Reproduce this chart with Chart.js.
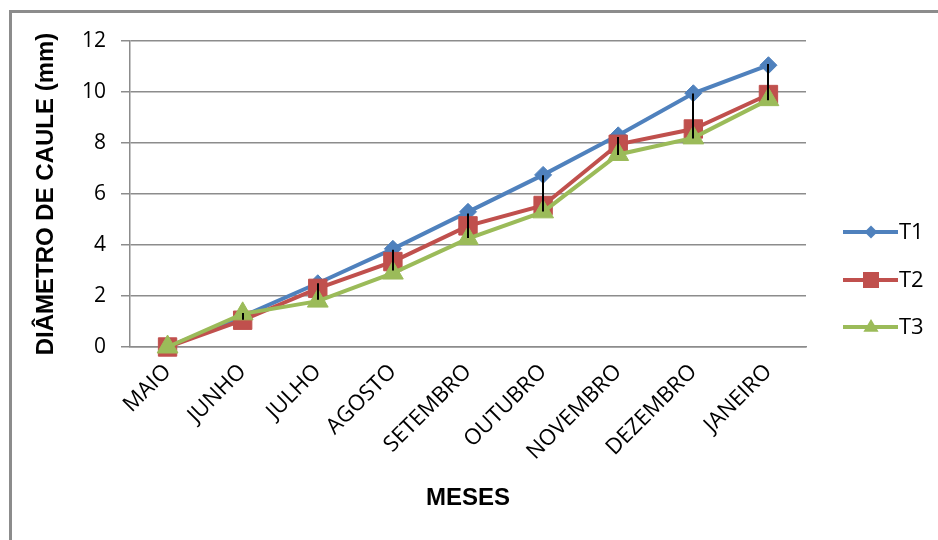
<!DOCTYPE html>
<html lang="pt">
<head>
<meta charset="utf-8">
<script src="https://cdn.jsdelivr.net/npm/chart.js@4/dist/chart.umd.min.js"></script>
<style>
  html, body { margin: 0; padding: 0; background: #fff; }
  #wrap { position: relative; width: 938px; height: 540px; }
</style>
</head>
<body>
<div id="wrap"><canvas id="grafico" width="938" height="540"></canvas></div>
<script>
// Meses de avaliação e diâmetro de caule (mm) por tratamento
const meses = ['MAIO', 'JUNHO', 'JULHO', 'AGOSTO', 'SETEMBRO', 'OUTUBRO', 'NOVEMBRO', 'DEZEMBRO', 'JANEIRO'];
const t1 = [0, 1.2, 2.5, 3.85, 5.3, 6.75, 8.3, 9.95, 11.05];
const t2 = [0, 1.05, 2.3, 3.35, 4.75, 5.55, 7.95, 8.55, 9.9];
const t3 = [0, 1.3, 1.8, 2.9, 4.25, 5.3, 7.55, 8.2, 9.7];
// Barras verticais (limite superior e inferior) em cada mês
const barraSup = [null, 1.33, 2.5, 3.81, 5.24, 6.74, 8.24, 9.94, 11.1];
const barraInf = [null, 1.07, 1.85, 3.0, 4.27, 5.31, 7.53, 8.18, 9.68];
const yMin = 0, yMax = 12, yPasso = 2;

const AZUL = '#4F81BD', VERMELHO = '#C0504D', VERDE = '#9BBB59';
const CINZA = '#8c8c8c';
const familiaTexto = '"Open Sans", "DejaVu Sans", sans-serif';
const fonteTickY = { family: familiaTexto, size: 21 };
const fonteTickX = { family: familiaTexto, size: 22 };
const fonteTitulo = { family: '"Liberation Sans", Arial, sans-serif', size: 24, weight: 'bold' };

// Moldura e fundo
const moldura = {
  id: 'moldura',
  beforeDraw(chart) {
    const ctx = chart.ctx;
    ctx.save();
    ctx.fillStyle = '#fff';
    ctx.fillRect(0, 0, chart.width, chart.height);
    ctx.strokeStyle = CINZA;
    ctx.lineWidth = 3;
    ctx.beginPath();
    ctx.moveTo(10.5, chart.height + 2);
    ctx.lineTo(10.5, 11.5);
    ctx.lineTo(chart.width + 2, 11.5);
    ctx.stroke();
    ctx.restore();
  }
};

// Barras verticais pretas
const barras = {
  id: 'barras',
  afterDatasetsDraw(chart) {
    const { ctx, scales: { x, y } } = chart;
    ctx.save();
    ctx.strokeStyle = '#000';
    ctx.lineWidth = 2;
    barraSup.forEach((sup, i) => {
      if (sup === null) return;
      const px = Math.round(x.getPixelForValue(i));
      ctx.beginPath();
      ctx.moveTo(px, y.getPixelForValue(sup));
      ctx.lineTo(px, y.getPixelForValue(barraInf[i]));
      ctx.stroke();
    });
    ctx.restore();
  }
};

// Legenda à direita
function marcador(ctx, estilo, cx, cy, r, cor) {
  ctx.fillStyle = cor;
  ctx.beginPath();
  if (estilo === 'rectRot') {
    ctx.moveTo(cx - r, cy); ctx.lineTo(cx, cy - r); ctx.lineTo(cx + r, cy); ctx.lineTo(cx, cy + r);
  } else if (estilo === 'rect') {
    ctx.rect(cx - r, cy - r, 2 * r, 2 * r);
  } else {
    ctx.moveTo(cx, cy - r); ctx.lineTo(cx + r * 0.95, cy + r * 0.6); ctx.lineTo(cx - r * 0.95, cy + r * 0.6);
  }
  ctx.closePath();
  ctx.fill();
}
const legenda = {
  id: 'legenda',
  afterDraw(chart) {
    const ctx = chart.ctx;
    const linhas = [232, 280, 327];
    const tamanhos = [6.5, 8, 8];
    ctx.save();
    chart.data.datasets.forEach((ds, i) => {
      const yy = linhas[i];
      ctx.strokeStyle = ds.borderColor;
      ctx.lineWidth = 4;
      ctx.beginPath();
      ctx.moveTo(843, yy);
      ctx.lineTo(898, yy);
      ctx.stroke();
      marcador(ctx, ds.pointStyle, 871, yy, tamanhos[i], ds.borderColor);
      ctx.fillStyle = '#000';
      ctx.font = `22px ${familiaTexto}`;
      ctx.textBaseline = 'middle';
      ctx.textAlign = 'left';
      ctx.fillText(ds.label, 899, yy + 1);
    });
    ctx.restore();
  }
};

function serie(rotulo, dados, cor, estilo, raio, ordem) {
  return {
    label: rotulo,
    data: dados,
    borderColor: cor,
    backgroundColor: cor,
    borderWidth: 4,
    pointStyle: estilo,
    pointRadius: raio,
    pointBorderWidth: 1,
    pointBackgroundColor: cor,
    pointBorderColor: cor,
    tension: 0,
    order: ordem,
    clip: false
  };
}

new Chart(document.getElementById('grafico'), {
  type: 'line',
  data: {
    labels: meses,
    datasets: [
      serie('T1', t1, AZUL, 'rectRot', 8.5, 2),
      serie('T2', t2, VERMELHO, 'rect', 13, 1),
      serie('T3', t3, VERDE, 'triangle', 12, 0)
    ]
  },
  options: {
    responsive: false,
    animation: false,
    events: [],
    layout: { padding: { left: 10, top: 41, right: 132, bottom: 0 } },
    plugins: {
      legend: { display: false },
      tooltip: { enabled: false }
    },
    scales: {
      x: {
        offset: true,
        grid: { display: false },
        border: { display: true, color: CINZA, width: 1.5 },
        ticks: {
          autoSkip: false,
          maxRotation: 45,
          minRotation: 45,
          padding: 4,
          color: '#000',
          font: fonteTickX
        },
        title: {
          display: true,
          text: 'MESES',
          color: '#000',
          font: fonteTitulo,
          padding: { top: 0, bottom: 27 }
        },
        afterFit(scale) { scale.height = 193; }
      },
      y: {
        min: yMin,
        max: yMax,
        ticks: {
          stepSize: yPasso,
          padding: 15,
          color: '#000',
          font: fonteTickY
        },
        grid: {
          color: CINZA,
          lineWidth: 1.5,
          tickLength: 9,
          drawTicks: true
        },
        border: { display: true, color: CINZA, width: 1.5 },
        title: {
          display: true,
          text: 'DIÂMETRO DE CAULE (mm)',
          color: '#000',
          font: fonteTitulo,
          padding: { top: 22, bottom: 0 }
        },
        afterFit(scale) { scale.width = 120; }
      }
    }
  },
  plugins: [moldura, barras, legenda]
});
</script>
</body>
</html>
